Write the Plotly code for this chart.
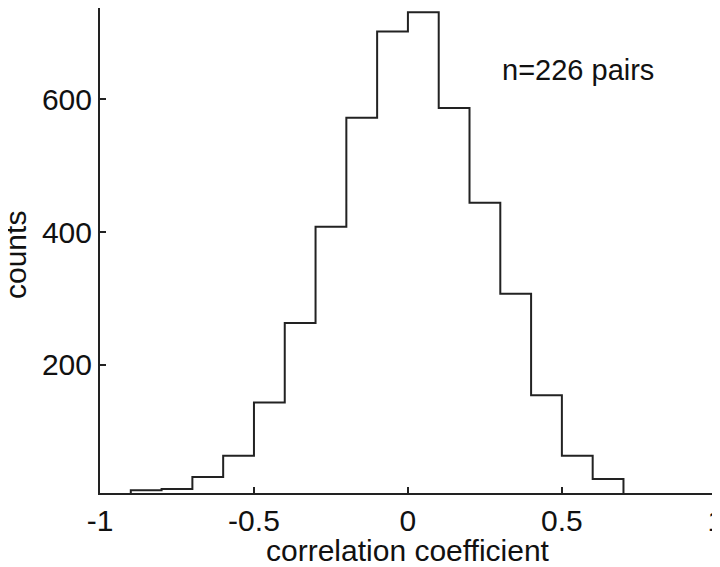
import plotly.graph_objects as go

bin_edges = [-0.9, -0.8, -0.7, -0.6, -0.5, -0.4, -0.3, -0.2, -0.1, 0.0,
             0.1, 0.2, 0.3, 0.4, 0.5, 0.6, 0.7]
counts = [11, 13, 31, 63, 143, 263, 408, 572, 702, 731,
          587, 444, 307, 154, 63, 28]
x_ticks = [-1, -0.5, 0, 0.5, 1]
x_tick_labels = ["-1", "-0.5", "0", "0.5", "1"]
y_ticks = [200, 400, 600]
y_tick_labels = ["200", "400", "600"]

xs = [bin_edges[0]] + bin_edges
ys = [0] + counts + [0]

FONT = "Liberation Sans, Arial, sans-serif"
# page has an 8px body margin; figure is sized to compensate
L, R, T, B = 92, 4, 0, 74
W, H = 712, 559
pw, ph = W - L - R, H - T - B

fig = go.Figure()
fig.add_trace(go.Scatter(x=xs, y=ys, mode="lines", line_shape="hv",
                         line=dict(color="#222222", width=2), showlegend=False,
                         hoverinfo="skip"))
fig.add_annotation(x=0.3, y=644, text="n=226 pairs", showarrow=False,
                   xanchor="left", yanchor="middle",
                   font=dict(family=FONT, size=29, color="#111111"))
fig.add_annotation(xref="paper", yref="paper", x=(400 - L) / pw, y=(ph - 542) / ph,
                   text="correlation coefficient", showarrow=False,
                   xanchor="center", yanchor="middle",
                   font=dict(family=FONT, size=30, color="#111111"))
fig.add_annotation(xref="paper", yref="paper", x=(8 - L) / pw, y=(ph - 247) / ph,
                   text="counts", showarrow=False, textangle=-90,
                   xanchor="center", yanchor="middle",
                   font=dict(family=FONT, size=30, color="#111111"))
fig.update_layout(
    template="none",
    width=W, height=H,
    margin=dict(l=L, r=R, t=T, b=B, autoexpand=False),
    paper_bgcolor="white", plot_bgcolor="white",
    font=dict(family=FONT, size=30, color="#111111"),
)
fig.update_xaxes(range=[-1, 1.0005], tickvals=x_ticks, ticktext=x_tick_labels,
                 automargin=False, ticklabeloverflow="allow",
                 showgrid=False, zeroline=False, showline=True, mirror=False,
                 linecolor="#222222", linewidth=2, ticks="inside", ticklen=6,
                 tickcolor="#222222", tickwidth=1.5,
                 tickfont=dict(family=FONT, size=30, color="#111111"))
fig.update_yaxes(range=[6.85, 737.5], tickvals=y_ticks, ticktext=y_tick_labels,
                 automargin=False,
                 showgrid=False, zeroline=False, showline=True, mirror=False,
                 linecolor="#222222", linewidth=2, ticks="inside", ticklen=6,
                 tickcolor="#222222", tickwidth=1.5,
                 tickfont=dict(family=FONT, size=30, color="#111111"))
fig.write_html("out.html")
